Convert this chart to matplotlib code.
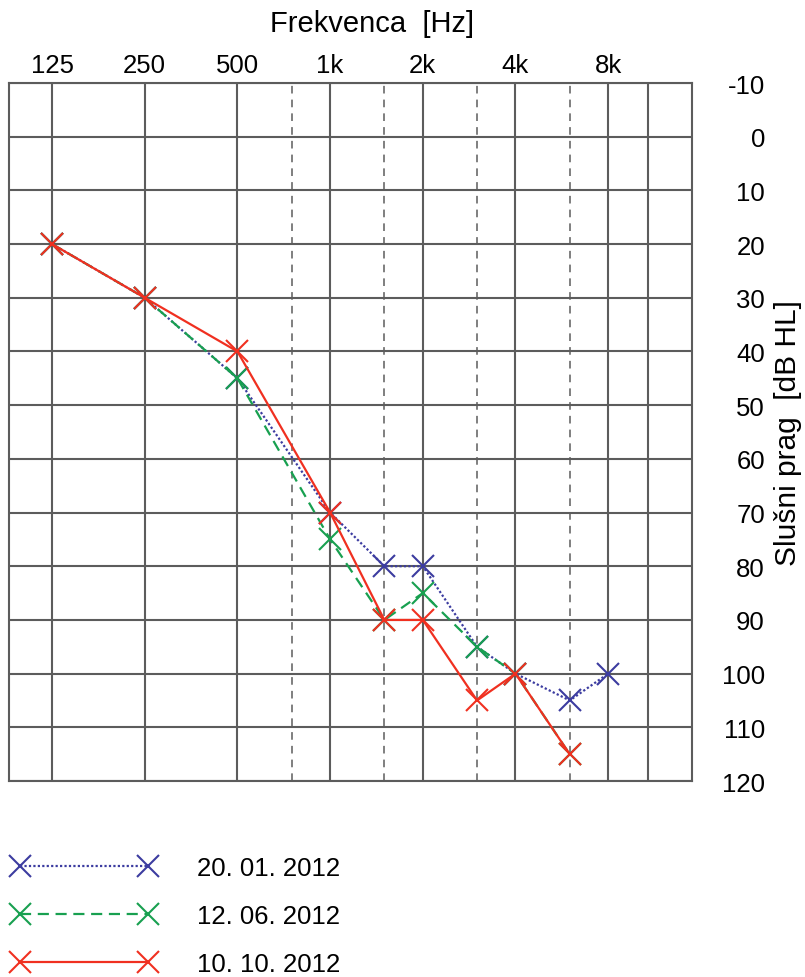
import matplotlib
matplotlib.use("Agg")
import matplotlib.pyplot as plt

plt.rcParams['font.family'] = ['Liberation Sans', 'DejaVu Sans']
plt.rcParams['axes.unicode_minus'] = False

# frequencies (Hz) and hearing thresholds (dB HL)
freqs = [125, 250, 500, 1000, 1500, 2000, 3000, 4000, 6000, 8000]
jan = [20, 30, 45, 70, 80, 80, 95, 100, 105, 100]
jun = [20, 30, 45, 75, 90, 85, 95, 100, 115]
okt = [20, 30, 40, 70, 90, 90, 105, 100, 115]

labels = ['20. 01. 2012', '12. 06. 2012', '10. 10. 2012']
colors = ['#3c3ca0', '#18a050', '#f03020']

main_freqs = [125, 250, 500, 1000, 2000, 4000, 8000, 10800]
half_freqs = [750, 1500, 3000, 6000]
tick_freqs = [125, 250, 500, 1000, 2000, 4000, 8000]
tick_labels = ['125', '250', '500', '1k', '2k', '4k', '8k']
db_ticks = list(range(-10, 130, 10))

fs = 18.5

fig = plt.figure(figsize=(8.05, 9.78), dpi=100)
ax = fig.add_axes([0.0112, 0.2004, 0.8484, 0.7137])

ax.set_xscale('log', base=2)
ax.set_xlim(90.6, 14970)
ax.set_ylim(120, -10)

grid_col = '#5c5c5c'
for f in main_freqs:
    ax.axvline(f, color=grid_col, lw=1.5, zorder=1)
for f in half_freqs:
    ax.axvline(f, color=grid_col, lw=1.1, ls=(0, (5, 4)), zorder=1)
for d in db_ticks:
    ax.axhline(d, color=grid_col, lw=1.5, zorder=1)
for s in ax.spines.values():
    s.set_color(grid_col)
    s.set_linewidth(1.5)

mk = dict(marker='x', markersize=16, markeredgewidth=1.5)
ax.plot(freqs, jan, color=colors[0], ls=(0, (1, 1)), lw=1.6, label=labels[0], zorder=3, **mk)
ax.plot(freqs[:len(jun)], jun, color=colors[1], ls=(0, (5, 3)), lw=1.6, label=labels[1], zorder=4, **mk)
ax.plot(freqs[:len(okt)], okt, color=colors[2], ls='-', lw=1.6, label=labels[2], zorder=5, **mk)

ax.xaxis.tick_top()
ax.set_xticks(tick_freqs)
ax.set_xticklabels(tick_labels)
ax.xaxis.set_minor_locator(matplotlib.ticker.NullLocator())
ax.set_xlabel('Frekvenca  [Hz]', fontsize=21)
ax.xaxis.set_label_position('top')
ax.xaxis.set_label_coords(0.531, 1.074)

ax.yaxis.tick_right()
ax.set_yticks(db_ticks)
ax.set_ylabel('Slušni prag  [dB HL]', fontsize=21.5)
ax.yaxis.set_label_position('right')
ax.yaxis.set_label_coords(1.12, 0.5)
ax.tick_params(length=0, labelsize=fs)
ax.tick_params(axis='x', pad=4)
ax.tick_params(axis='y', pad=52.5)
for t in ax.get_yticklabels():
    t.set_horizontalalignment('right')

fig.legend(loc='upper left', bbox_to_anchor=(0.0025, 0.134), frameon=False,
           fontsize=fs, numpoints=2, handlelength=5.57, handletextpad=1.6,
           labelspacing=0.93, borderaxespad=0)

fig.savefig('out.png', dpi=100)
